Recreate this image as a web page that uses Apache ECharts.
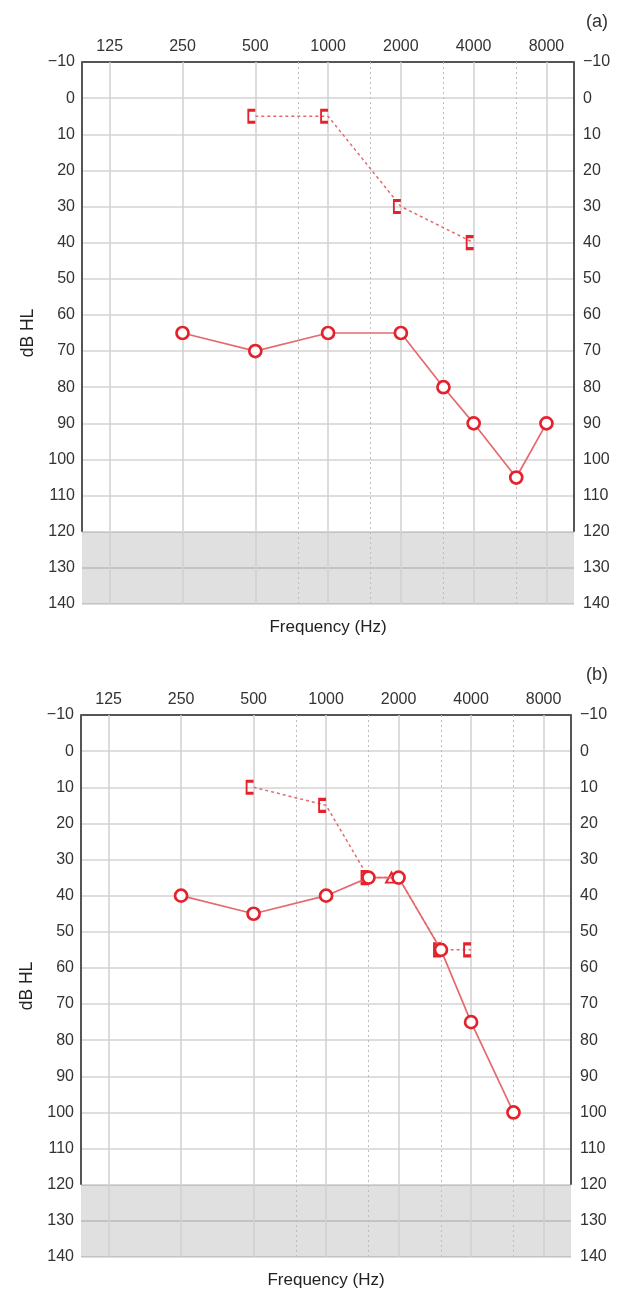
<!DOCTYPE html>
<html>
<head>
<meta charset="utf-8">
<script src="https://cdn.jsdelivr.net/npm/echarts@6/dist/echarts.min.js"></script>
<style>
  html, body { margin: 0; padding: 0; background: #fff; }
  #chart { width: 620px; height: 1294px; }
</style>
</head>
<body>
<div id="chart"></div>
<script>
// ---- data ----
const freqLabels = [125, 250, 500, 1000, 2000, 4000, 8000];
const freqMid = [750, 1500, 3000, 6000];
const panelTitles = ['(a)', '(b)'];

// panel (a)
const airFreqA = [250, 500, 1000, 2000, 3000, 4000, 6000, 8000];
const airDbA   = [65, 70, 65, 65, 80, 90, 105, 90];
const boneFreqA = [500, 1000, 2000, 4000];
const boneDbA   = [5, 5, 30, 40];

// panel (b)
const airFreqB = [250, 500, 1000, 1500, 2000, 3000, 4000, 6000];
const airDbB   = [40, 45, 40, 35, 35, 55, 75, 100];
const boneFreqB = [500, 1000, 1500, 2000, 3000, 4000];
const boneDbB   = [10, 15, 35, 35, 55, 55];
const boneSymB  = ['bracket', 'bracket', 'bracket', 'triangle', 'bracket', 'bracket'];

// ---- layout / style ----
const FONT = '"Liberation Sans", Arial, sans-serif';
const TXT = '#333';
const RED = '#e3222c';
const LINE_RED = '#e56a6f';
const XMIN = 96, XMAX = 10400;
const DB_MIN = -10, DB_MAX = 140, DB_FLOOR = 120;
const grids = [
  { left: 82, top: 62, width: 492, height: 542 },
  { left: 81, top: 715, width: 490, height: 542 }
];
const BRACKET = 'path://M10,0 L0,0 L0,16 L10,16';

const chart = echarts.init(document.getElementById('chart'), null, { renderer: 'canvas' });

const xAxes = [], yAxes = [], series = [], titles = [];

function buildPanel(i, airF, airD, boneF, boneD, boneSym) {
  const g = grids[i];
  titles.push({
    text: panelTitles[i], right: 7, top: g.top - 54,
    textStyle: { fontFamily: FONT, fontSize: 18, fontWeight: 'normal', color: TXT }
  });
  // top frequency axis
  xAxes.push({
    type: 'log', logBase: 2, gridIndex: i, position: 'top',
    min: XMIN, max: XMAX,
    axisLine: { show: true, onZero: false, lineStyle: { color: '#555', width: 2 } },
    axisTick: { show: false },
    splitLine: { show: false },
    axisLabel: {
      customValues: freqLabels, margin: 7, fontSize: 16, color: TXT, fontFamily: FONT,
      formatter: v => String(Math.round(v))
    }
  });
  // bottom axis (name only)
  xAxes.push({
    type: 'value', gridIndex: i, position: 'bottom', min: 0, max: 1,
    axisLine: { show: false, onZero: false }, axisTick: { show: false }, axisLabel: { show: false },
    splitLine: { show: false },
    name: 'Frequency (Hz)', nameLocation: 'middle', nameGap: 15,
    nameTextStyle: { fontFamily: FONT, fontSize: 17, color: '#222' }
  });
  const yCommon = {
    type: 'value', gridIndex: i, inverse: true, min: DB_MIN, max: DB_MAX, interval: 10,
    axisLine: { show: false, onZero: false }, axisTick: { show: false },
    axisLabel: {
      fontSize: 16, color: TXT, fontFamily: FONT,
      formatter: v => String(v).replace('-', '\u2212')
    }
  };
  yAxes.push(Object.assign({}, yCommon, {
    position: 'left',
    axisLabel: Object.assign({}, yCommon.axisLabel, { margin: 7 }),
    splitLine: { show: true, lineStyle: { color: '#d3d3d3', width: 1.5 } },
    name: 'dB HL', nameLocation: 'middle', nameGap: 39, nameRotate: 90,
    nameTextStyle: { fontFamily: FONT, fontSize: 17.5, color: '#222' }
  }));
  yAxes.push(Object.assign({}, yCommon, {
    position: 'right',
    axisLabel: Object.assign({}, yCommon.axisLabel, { margin: 9 }),
    splitLine: { show: false }
  }));
  const xi = i * 2, yi = i * 2;
  // shaded floor region
  series.push({
    type: 'scatter', xAxisIndex: xi, yAxisIndex: yi, data: [], silent: true, z: 1,
    markArea: {
      silent: true, itemStyle: { color: 'rgba(0,0,0,0.12)' },
      data: [[{ yAxis: DB_FLOOR }, { yAxis: DB_MAX }]]
    }
  });
  // vertical grid lines
  series.push({
    type: 'scatter', xAxisIndex: xi, yAxisIndex: yi, data: [], silent: true, z: 2,
    markLine: {
      silent: true, symbol: 'none', animation: false, label: { show: false },
      data: freqLabels.map(f => ({ xAxis: f, lineStyle: { color: '#d0d0d0', width: 1.5, type: 'solid' } }))
        .concat(freqMid.map(f => ({ xAxis: f, lineStyle: { color: '#bdbdbd', width: 1, type: [2, 3] } })))
    }
  });
  // left/right borders down to the floor
  series.push({
    type: 'scatter', xAxisIndex: xi, yAxisIndex: yi, data: [], silent: true, z: 3,
    markLine: {
      silent: true, symbol: 'none', animation: false, label: { show: false },
      lineStyle: { color: '#555', width: 2, type: 'solid' },
      data: [
        [{ coord: [XMIN, DB_MIN] }, { coord: [XMIN, DB_FLOOR] }],
        [{ coord: [XMAX, DB_MIN] }, { coord: [XMAX, DB_FLOOR] }]
      ]
    }
  });
  // bone conduction (dotted, brackets)
  series.push({
    type: 'line', xAxisIndex: xi, yAxisIndex: yi, z: 5, animation: false,
    lineStyle: { color: LINE_RED, width: 1.5, type: [3, 3] },
    itemStyle: { color: 'rgba(0,0,0,0)', borderColor: RED, borderWidth: 2.4 },
    symbol: BRACKET, symbolSize: [7, 12], symbolOffset: [-3.5, 0], symbolKeepAspect: false,
    data: boneF.map((f, k) => {
      const item = { value: [f, boneD[k]] };
      if (boneSym && boneSym[k] === 'triangle') {
        item.symbol = 'triangle'; item.symbolSize = [11, 10]; item.symbolOffset = [-7, 0];
        item.itemStyle = { color: '#fff', borderColor: RED, borderWidth: 2 };
      }
      return item;
    })
  });
  // air conduction (solid, circles)
  series.push({
    type: 'line', xAxisIndex: xi, yAxisIndex: yi, z: 6, animation: false,
    lineStyle: { color: LINE_RED, width: 1.7 },
    itemStyle: { color: '#fff', borderColor: RED, borderWidth: 2.7 },
    symbol: 'circle', symbolSize: 12,
    data: airF.map((f, k) => [f, airD[k]])
  });
}

buildPanel(0, airFreqA, airDbA, boneFreqA, boneDbA, null);
buildPanel(1, airFreqB, airDbB, boneFreqB, boneDbB, boneSymB);

chart.setOption({
  backgroundColor: '#fff',
  animation: false,
  title: titles,
  grid: grids,
  xAxis: xAxes,
  yAxis: yAxes,
  series: series
});
</script>
</body>
</html>
